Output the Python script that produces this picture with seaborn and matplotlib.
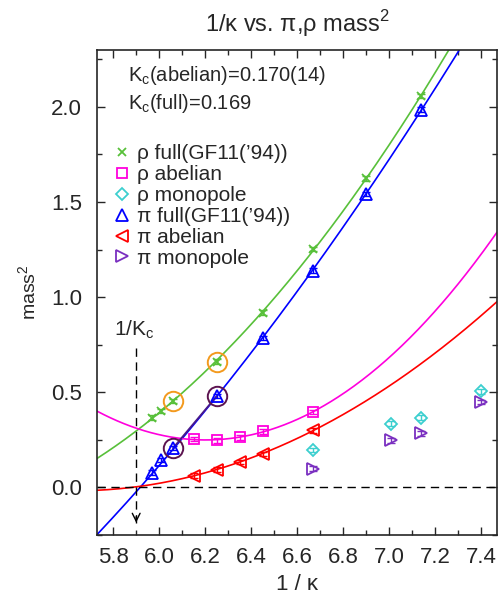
"""
1/kappa vs. pi, rho mass^2
"""
import matplotlib
matplotlib.use('Agg')
import matplotlib.pyplot as plt
import seaborn as sns
import numpy as np
import pandas as pd

# data
rho_full_x = [5.97, 6.01, 6.06, 6.25, 6.45, 6.67, 6.90, 7.14]
rho_full_y = [0.366, 0.402, 0.454, 0.660, 0.918, 1.253, 1.624, 2.057]
pi_full_x = [5.97, 6.01, 6.06, 6.25, 6.45, 6.67, 6.90, 7.14]
pi_full_y = [0.077, 0.144, 0.206, 0.479, 0.784, 1.139, 1.541, 1.985]
rho_ab_x = [6.15, 6.25, 6.35, 6.45, 6.67]
rho_ab_y = [0.253, 0.247, 0.263, 0.294, 0.397]
pi_ab_x = [6.15, 6.25, 6.35, 6.45, 6.67]
pi_ab_y = [0.062, 0.093, 0.134, 0.175, 0.299]
rho_mono_x = [6.67, 7.01, 7.14, 7.40]
rho_mono_y = [0.196, 0.335, 0.366, 0.505]
pi_mono_x = [6.67, 7.01, 7.14, 7.40]
pi_mono_y = [0.098, 0.247, 0.284, 0.448]
circled_x = [6.06, 6.25]
circled_rho_y = [0.454, 0.660]
circled_pi_y = [0.206, 0.479]

kc_abelian = 0.170
kc_full = 0.169
inv_kc_line = 5.90

sns.set_style('ticks')
plt.rcParams['font.family'] = ['Liberation Sans', 'DejaVu Sans']
plt.rcParams['axes.unicode_minus'] = False

fig = plt.figure(figsize=(4.98, 5.99), dpi=100)
ax = fig.add_axes([0.195, 0.107, 0.803, 0.810])

xs = np.linspace(5.73, 7.47, 300)


def fit_through(x, y, x0):
    # y = a (x - x0) + b (x - x0)^2
    d = np.asarray(x) - x0
    A = np.column_stack([d, d ** 2])
    a, b = np.linalg.lstsq(A, np.asarray(y), rcond=None)[0]
    dd = xs - x0
    return a * dd + b * dd ** 2


fits = pd.DataFrame({
    'x': xs,
    'rho_full': np.polyval(np.polyfit(rho_full_x, rho_full_y, 2), xs),
    'pi_full': fit_through(pi_full_x, pi_full_y, 1 / kc_full),
    'rho_ab': np.polyval(np.polyfit(rho_ab_x, rho_ab_y, 2), xs),
    'pi_ab': fit_through(pi_ab_x, pi_ab_y, 1 / kc_abelian),
})

c_green = '#58c03a'
c_blue = '#0000ff'
c_mag = '#ff00dd'
c_red = '#ff0000'
c_cyan = '#3ccfcf'
c_purple = '#7a2fc0'

sns.lineplot(data=fits, x='x', y='rho_full', color=c_green, lw=1.2, ax=ax)
sns.lineplot(data=fits, x='x', y='pi_full', color=c_blue, lw=1.2, ax=ax)
sns.lineplot(data=fits, x='x', y='rho_ab', color=c_mag, lw=1.2, ax=ax)
sns.lineplot(data=fits, x='x', y='pi_ab', color=c_red, lw=1.2, ax=ax)

# line between the circled pi points
ax.plot(circled_x, circled_pi_y, color='#4a1a8a', lw=1.3, zorder=3)

# reference lines
ax.axhline(0, color='black', ls=(0, (6, 4)), lw=1.0)
ax.plot([inv_kc_line, inv_kc_line], [-0.19, 0.76], color='black',
        ls=(0, (6, 4)), lw=1.0)
ax.annotate('', xy=(inv_kc_line, -0.2), xytext=(inv_kc_line, -0.14),
            arrowprops=dict(arrowstyle='->', color='black', lw=1.0,
                            mutation_scale=14))

err = 0.012
series = [
    (rho_full_x, rho_full_y, 'x', c_green, 6, "ρ full(GF11(’94))"),
    (rho_ab_x, rho_ab_y, 's', c_mag, 7, 'ρ abelian'),
    (rho_mono_x, rho_mono_y, 'D', c_cyan, 6.5, 'ρ monopole'),
    (pi_full_x, pi_full_y, '^', c_blue, 9, 'π full(GF11(’94))'),
    (pi_ab_x, pi_ab_y, '<', c_red, 9, 'π abelian'),
    (pi_mono_x, pi_mono_y, '>', c_purple, 9, 'π monopole'),
]
handles = []
for x, y, m, c, ms, lab in series:
    ax.errorbar(x, y, yerr=err, fmt='none', ecolor=c, elinewidth=1.0,
                capsize=3, capthick=1.0, zorder=4)
    if m == 'x':
        h, = ax.plot(x, y, ls='none', marker=m, color=c, ms=ms, mew=1.3,
                     zorder=5, label=lab)
    else:
        h, = ax.plot(x, y, ls='none', marker=m, mfc='none', mec=c, ms=ms,
                     mew=1.3, zorder=5, label=lab)
    handles.append(h)

# circles around selected points
ax.plot(circled_x, circled_rho_y, ls='none', marker='o', mfc='none',
        mec='#f39a1e', ms=14, mew=1.4, zorder=6)
ax.plot(circled_x, circled_pi_y, ls='none', marker='o', mfc='none',
        mec='#5c1450', ms=14, mew=1.4, zorder=6)

ax.legend(handles=handles, loc='upper left', bbox_to_anchor=(0.045, 0.805),
          frameon=False, fontsize=15, handlelength=0.7, handletextpad=0.35,
          labelspacing=0.09, borderaxespad=0, borderpad=0)

ax.text(5.865, 2.135, 'K$_\\mathregular{c}$(abelian)=0.170(14)', fontsize=14.5,
        va='baseline', ha='left')
ax.text(5.865, 1.99, 'K$_\\mathregular{c}$(full)=0.169', fontsize=14.5,
        va='baseline', ha='left')
ax.text(5.805, 0.80, '1/K$_\\mathregular{c}$', fontsize=15, va='baseline',
        ha='left')

ax.set_xlim(5.73, 7.47)
ax.set_ylim(-0.2, 2.3)
ax.set_xticks(np.arange(5.8, 7.41, 0.2))
ax.set_xticks(np.arange(5.8, 7.47, 0.1), minor=True)
ax.set_yticks(np.arange(0.0, 2.01, 0.5))
ax.set_yticks(np.arange(-0.25, 2.3, 0.25), minor=True)
ax.set_xticklabels([f'{v:.1f}' for v in np.arange(5.8, 7.41, 0.2)])
ax.set_yticklabels([f'{v:.1f}' for v in np.arange(0.0, 2.01, 0.5)])
ax.tick_params(which='both', direction='in', top=True, right=True,
               labelsize=16, width=1.0)
ax.tick_params(which='major', length=5.5)
ax.tick_params(which='minor', length=3.5)
ax.tick_params(axis='y', which='major', pad=11)
ax.tick_params(axis='x', which='major', pad=9)
for s in ax.spines.values():
    s.set_linewidth(1.2)

ax.set_xlabel('1 / κ', fontsize=16, labelpad=4)
ax.set_ylabel('mass$^\\mathregular{2}$', fontsize=14, labelpad=8)
ax.set_title('1/κ vs. π,ρ mass$^\\mathregular{2}$', fontsize=17, pad=13)

fig.savefig('out.png', dpi=100)
